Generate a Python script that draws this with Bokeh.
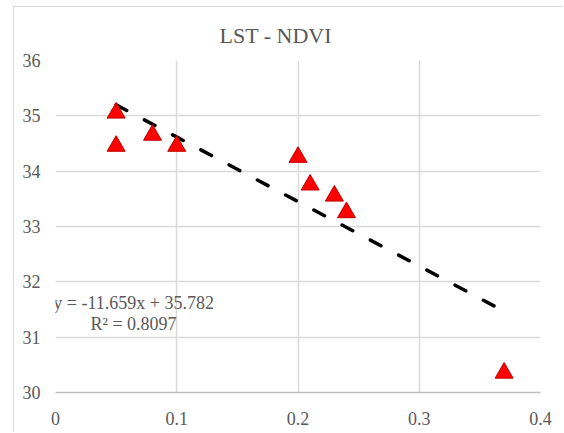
from bokeh.plotting import figure
from bokeh.models import Label, Range1d, FixedTicker
from bokeh.transform import dodge
from bokeh.embed import file_html
from bokeh.resources import INLINE

# ---- data ----
ndvi = [0.05, 0.05, 0.08, 0.10, 0.20, 0.21, 0.23, 0.24, 0.37]
lst = [35.1, 34.5, 34.7, 34.5, 34.3, 33.8, 33.6, 33.3, 30.4]

# linear trend shown in the chart
slope = -11.659
intercept = 35.782
r_squared = 0.8097

title_text = "LST - NDVI"
x_ticks = [0, 0.1, 0.2, 0.3, 0.4]
x_tick_labels = ["0", "0.1", "0.2", "0.3", "0.4"]
y_ticks = [30, 31, 32, 33, 34, 35, 36]
y_tick_labels = ["30", "31", "32", "33", "34", "35", "36"]

FONT = "Liberation Serif"
TXT = "#595959"
GRID = "#d9d9d9"

p = figure(
    width=550, height=426,
    x_range=Range1d(0, 0.4), y_range=Range1d(30, 36),
    output_backend="svg", toolbar_location=None,
    min_border_left=41, min_border_right=24,
    min_border_top=53, min_border_bottom=41,
    background_fill_color="white", border_fill_color="white",
)
p.styles = {
    "margin-left": "13px", "margin-top": "6px",
    "border-left": "1px solid #d9d9d9", "border-top": "1px solid #d9d9d9",
}
p.outline_line_color = None

# title
p.title.text = title_text
p.title.align = "left"
p.title.offset = 164
p.title.standoff = 25
p.title.text_font = FONT
p.title.text_font_size = "22px"
p.title.text_font_style = "normal"
p.title.text_color = TXT

# axes
p.xaxis.ticker = FixedTicker(ticks=x_ticks)
p.yaxis.ticker = FixedTicker(ticks=y_ticks)
p.xaxis.major_label_overrides = dict(zip(x_ticks, x_tick_labels))
p.yaxis.major_label_overrides = dict(zip(y_ticks, y_tick_labels))
for ax in (p.xaxis, p.yaxis):
    ax.major_tick_in = 0
    ax.major_tick_out = 0
    ax.minor_tick_in = 0
    ax.minor_tick_out = 0
    ax.major_label_text_font = FONT
    ax.major_label_text_font_size = "18px"
    ax.major_label_text_color = TXT
p.xaxis.axis_line_color = "#bfbfbf"
p.xaxis.axis_line_width = 1.5
p.yaxis.axis_line_color = None
p.xaxis.major_label_standoff = 19
p.yaxis.major_label_standoff = 15

p.xgrid.ticker = FixedTicker(ticks=x_ticks)
p.ygrid.ticker = FixedTicker(ticks=y_ticks)
p.grid.grid_line_color = GRID
p.grid.grid_line_width = 1.5

# trend line across the data range
x0, x1 = min(ndvi), max(ndvi)
p.line([x0, x1], [intercept + slope * x0, intercept + slope * x1],
       line_color="black", line_width=3.5, line_dash="12 20", line_cap="round")

# data points (triangles, centred on their box like the original markers)
src = dict(x=ndvi, y=lst)
p.scatter(x="x", y=dodge("y", -0.047, range=p.y_range), source=src,
          marker="triangle", size=18,
          fill_color="#ff0000", line_color="#c00000", line_width=1)

# equation labels
eq_text = f"y = {slope}x + {intercept}"
r2_text = f"R² = {r_squared}"
for txt, yy in ((eq_text, 31.61), (r2_text, 31.23)):
    p.add_layout(Label(x=0.0644, y=yy, text=txt, text_align="center",
                       text_baseline="middle", text_font=FONT,
                       text_font_size="18px", text_color=TXT))

open("out.html", "w").write(file_html(p, INLINE))
